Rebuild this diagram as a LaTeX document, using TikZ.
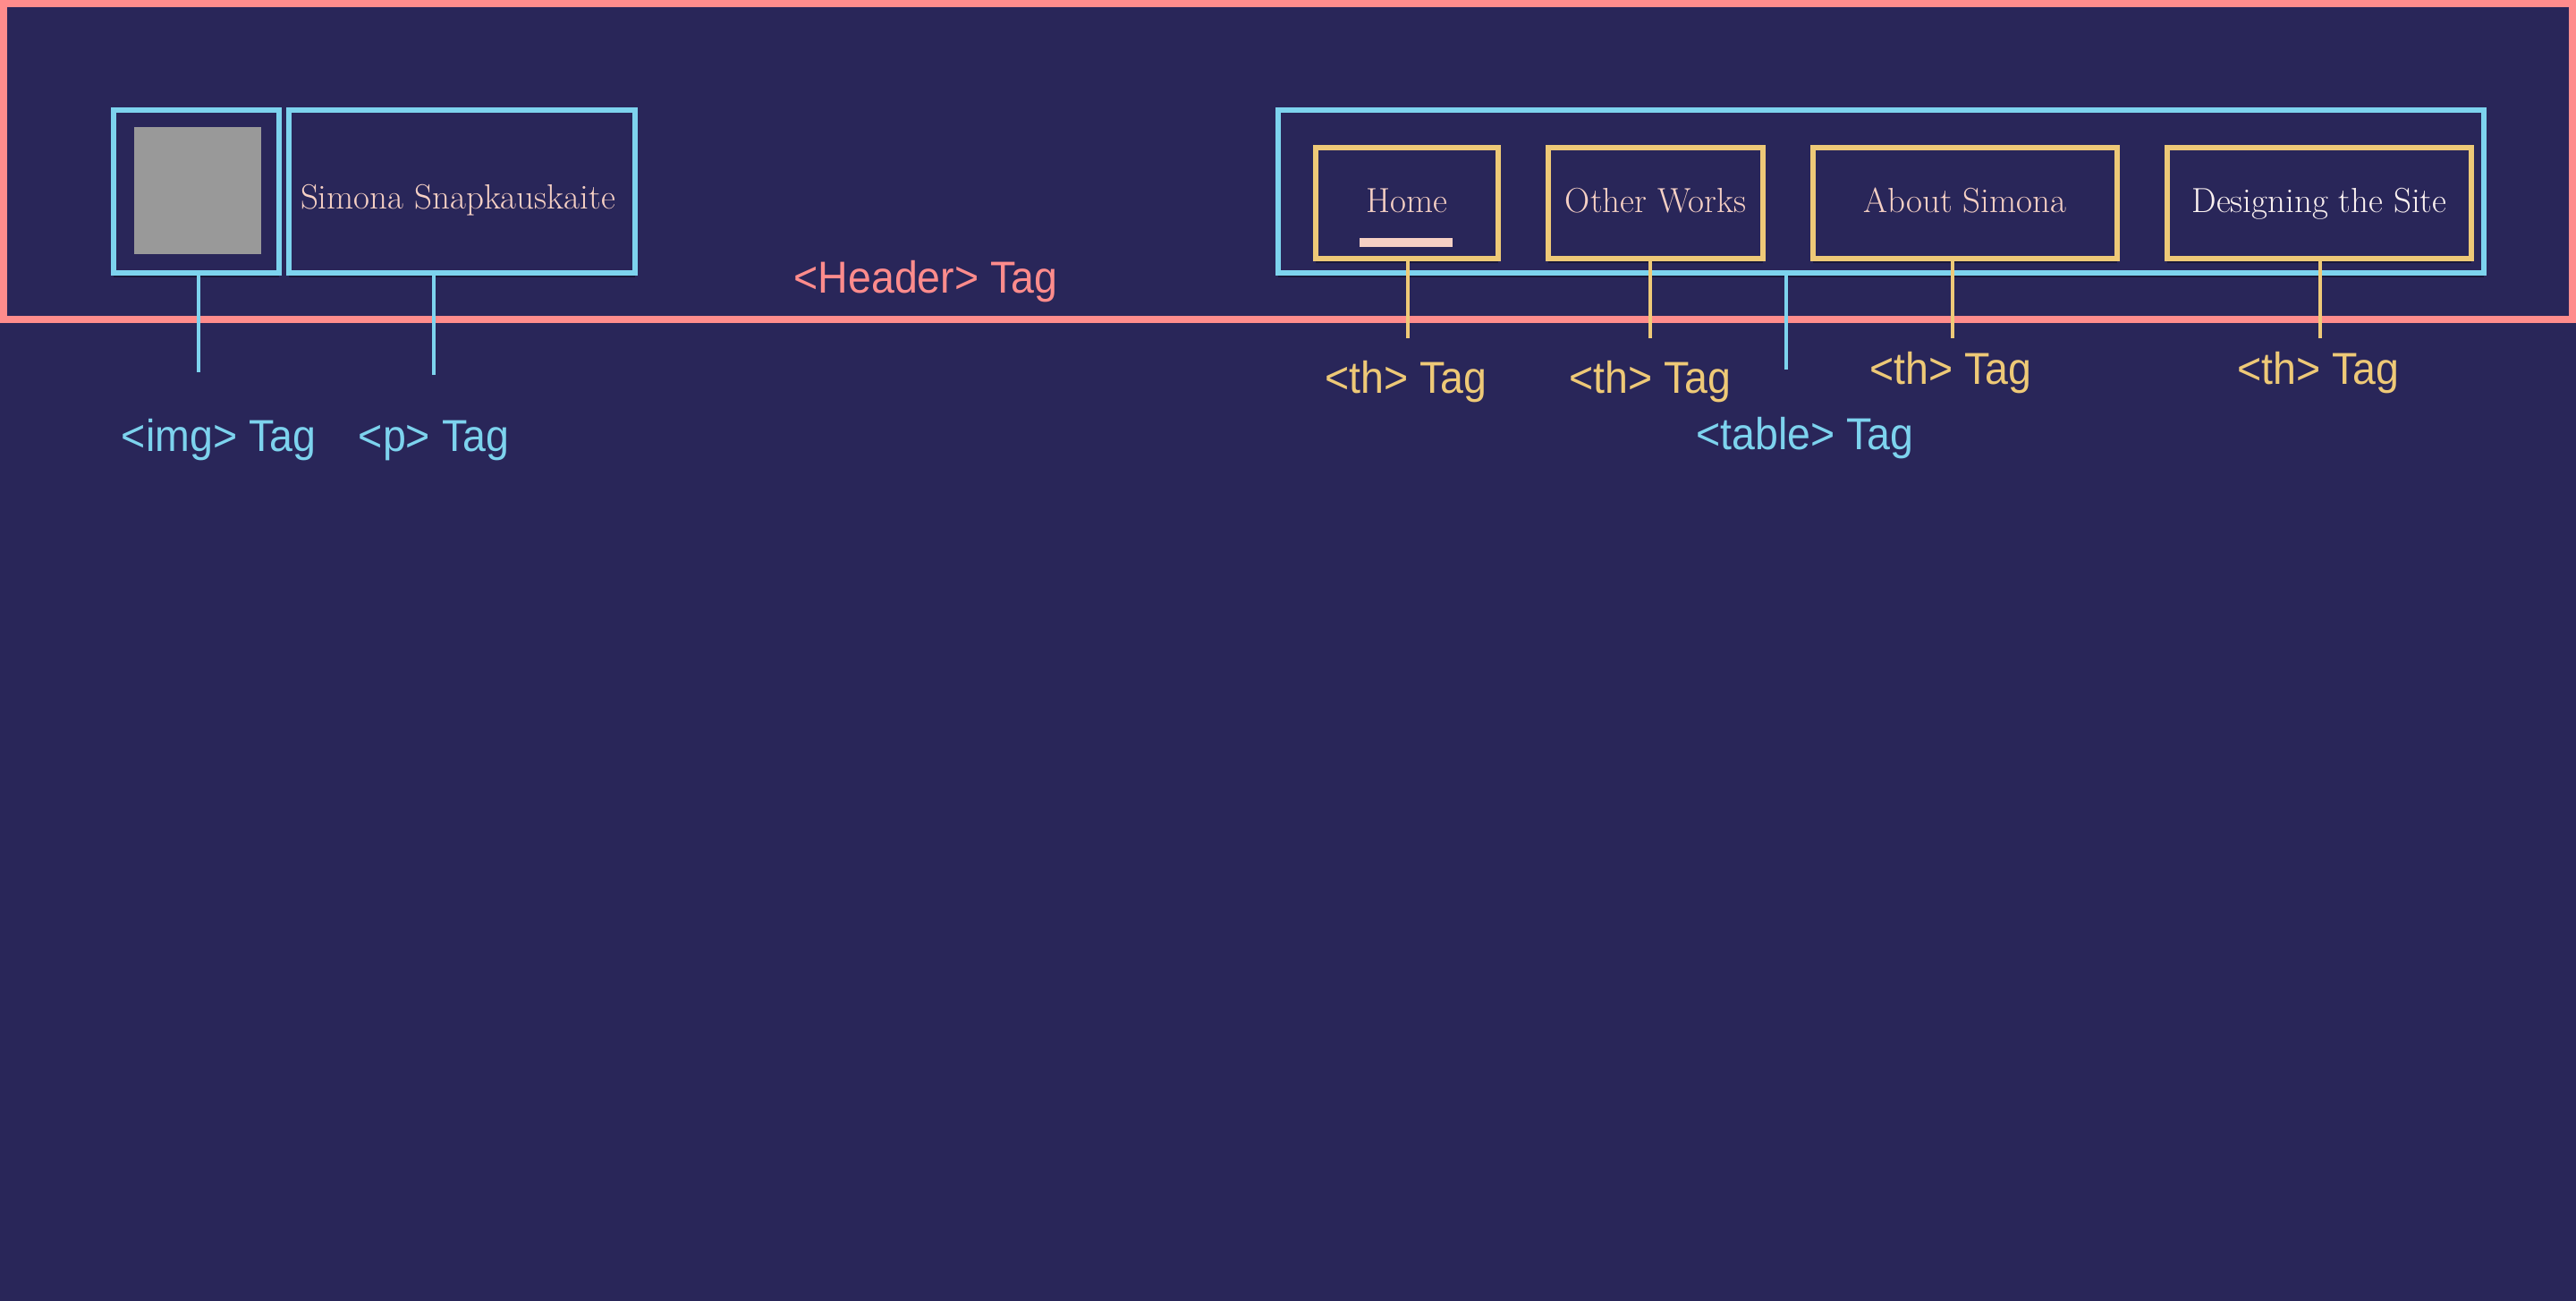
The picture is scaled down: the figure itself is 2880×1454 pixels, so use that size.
\documentclass[tikz,border=0pt]{standalone}
\usepackage{amsmath}
\usepackage{graphicx}
\usepackage{fontspec}
\usepackage{tikz}
\usetikzlibrary{positioning,shadows}
\newfontfamily\labelfont{Liberation Sans}
\newcommand{\tagname}[1]{\scalebox{0.93}[1]{#1}}
\definecolor{bgnavy}{HTML}{292659}
\definecolor{headred}{HTML}{FF8C8C}
\definecolor{tagcyan}{HTML}{7DD3EE}
\definecolor{thgold}{HTML}{EEC977}
\definecolor{menupink}{HTML}{F6D0C4}
\definecolor{menuwhite}{HTML}{FBF1F0}
\definecolor{imggray}{HTML}{999999}
\tikzset{
  box/.style={draw, fill=bgnavy, inner sep=0pt, line width=3pt},
  tagline/.style={line width=2pt},
  taglabel/.style={font=\labelfont\fontsize{25}{30}\selectfont, anchor=base, inner sep=0pt},
  menutext/.style={font=\fontsize{19.5}{23}\selectfont, anchor=base, inner sep=0pt},
  shade/.style={drop shadow={shadow xshift=0pt, shadow yshift=-2.5pt, opacity=0.35, fill=black}}
}

\begin{document}
\begin{tikzpicture}[x=0.5pt,y=-0.5pt]
\useasboundingbox (0,0) rectangle (2880,1454);
\fill[bgnavy] (0,0) rectangle (2880,1454);
\node[draw=headred, line width=4pt, minimum width=1436pt, minimum height=176.5pt, inner sep=0pt] (header) at (1440,180.5) {};
\node[taglabel, text=headred] (headertag) at (1035,328) {\tagname{<Header> Tag}};

\node[box, draw=tagcyan, shade, minimum width=92.5pt, minimum height=91pt] (img) at (219.5,214) {};
\node[fill=imggray, minimum size=71pt, inner sep=0pt] (photo) at (221,213) {};
\node[box, draw=tagcyan, shade, minimum width=193.5pt, minimum height=91pt] (name) at (516.5,214) {};
\node[menutext, text=menupink] (nametext) at (512,234) {Simona Snapkauskaite};

\node[box, draw=tagcyan, shade, minimum width=674pt, minimum height=91pt] (table) at (2103,214) {};
\foreach \n/\x/\w/\c/\t in {home/1573/102/menupink/Home, works/1851/120/menupink/Other Works,
    about/2197/170/menupink/About Simona, site/2593/170/menuwhite/Designing the Site}{
  \node[box, draw=thgold, shade, minimum width=\w pt, minimum height=62pt] (\n) at (\x,227) {};
  \node[menutext, text=\c] (\n text) at (\x,238) {\t};
}
\node[fill=menupink, minimum width=52pt, minimum height=5pt, inner sep=0pt] (homebar) at (1572,271) {};

\coordinate (imgend) at (222,416);
\coordinate (nameend) at (485,419);
\coordinate (tableend) at (1997,413);
\draw[tagcyan, tagline] (img.south -| imgend) -- (imgend);
\draw[tagcyan, tagline] (name.south -| nameend) -- (nameend);
\draw[tagcyan, tagline] (table.south -| tableend) -- (tableend);
\node[taglabel, text=tagcyan] (imgtag) at (244.5,505) {\tagname{<img> Tag}};
\node[taglabel, text=tagcyan] (ptag) at (485,505) {\tagname{<p> Tag}};
\node[taglabel, text=tagcyan] (tabletag) at (2018,503) {\tagname{<table> Tag}};

\foreach \n/\x/\lx/\ly in {home/1574/1572/440, works/1845/1845/440, about/2183/2181/430, site/2594/2592/430}{
  \coordinate (\n end) at (\x,378);
  \draw[thgold, tagline] (\n.south -| \n end) -- (\n end);
  \node[taglabel, text=thgold] (\n tag) at (\lx,\ly) {\tagname{<th> Tag}};
}
\end{tikzpicture}
\end{document}
